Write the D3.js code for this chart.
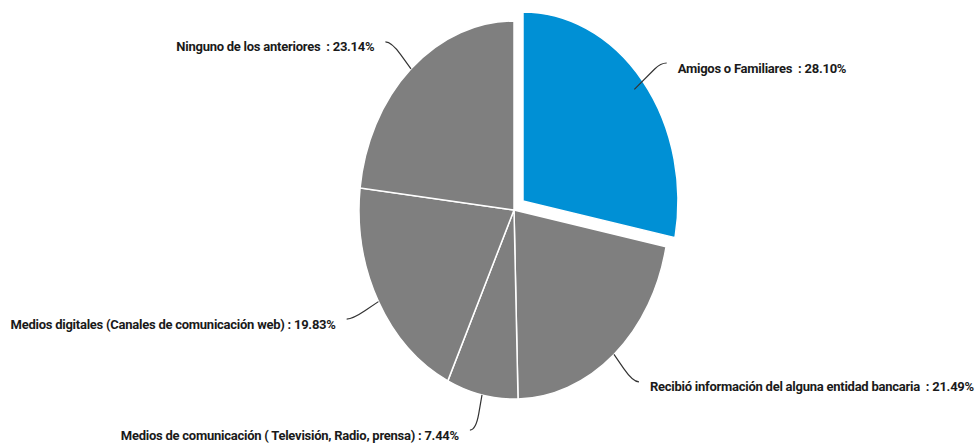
<!DOCTYPE html>
<html>
<head>
<meta charset="utf-8">
<script src="https://cdn.jsdelivr.net/npm/d3@7"></script>
<style>
  html, body { margin: 0; padding: 0; background: #fff; }
  svg { display: block; }
  .lbl { font-family: "Roboto", "Liberation Sans", sans-serif; font-weight: bold; font-size: 13px;
         letter-spacing: -0.25px; fill: #1a1a1a; white-space: pre; }
</style>
</head>
<body>
<svg id="chart" width="977" height="445"></svg>
<script>
// Source of information, share of respondents (%)
const categories = [
  "Amigos o Familiares ",
  "Recibió información del alguna entidad bancaria ",
  "Medios de comunicación ( Televisión, Radio, prensa)",
  "Medios digitales (Canales de comunicación web)",
  "Ninguno de los anteriores "
];
const values = [28.10, 21.49, 7.44, 19.83, 23.14];
const highlighted = [true, false, false, false, false];

const cx = 514, cy = 210;     // pie centre
const rx = 155, ry = 189;     // horizontal / vertical radius (oval pie)
const explode = 0.075;        // offset of the highlighted slice, in radius units

const svg = d3.select("#chart");

const pie = d3.pie().sort(null).value(d => d.value);
const data = categories.map((c, i) => ({ name: c, value: values[i], hi: highlighted[i] }));
const arcs = pie(data);

const arc = d3.arc().innerRadius(0).outerRadius(1);

// point at angle a (clockwise from 12 o'clock) and relative radius r on the oval
function pt(a, r, off) {
  return [cx + off[0] + rx * r * Math.sin(a), cy + off[1] - ry * r * Math.cos(a)];
}
function offsetOf(d) {
  if (!d.data.hi) return [0, 0];
  const m = (d.startAngle + d.endAngle) / 2;
  return [rx * explode * Math.sin(m), -ry * explode * Math.cos(m)];
}

const slices = svg.append("g");
slices.selectAll("path")
  .data(arcs)
  .join("path")
  .attr("transform", d => {
    const o = offsetOf(d);
    return `translate(${cx + o[0]},${cy + o[1]}) scale(${rx},${ry})`;
  })
  .attr("d", arc)
  .attr("fill", d => d.data.hi ? "#0090d5" : "#7f7f7f")
  .attr("stroke", "#ffffff")
  .attr("stroke-width", 1.5)
  .attr("vector-effect", "non-scaling-stroke");

// leader lines and labels
const labels = svg.append("g");
arcs.forEach(d => {
  const m = (d.startAngle + d.endAngle) / 2;
  const off = offsetOf(d);
  const right = Math.sin(m) >= 0;
  const p0 = pt(m, d.data.hi ? 0.93 : 1.0, off);
  const p1 = pt(m, 1.1, off);
  const elbow = pt(m, d.data.hi ? 1.15 : 1.19, off);
  const end = [elbow[0] + (right ? 6 : -6), elbow[1]];
  const path = d3.path();
  path.moveTo(p0[0], p0[1]);
  path.lineTo(p1[0], p1[1]);
  path.quadraticCurveTo(elbow[0], elbow[1], end[0], end[1]);
  labels.append("path")
    .attr("d", path.toString())
    .attr("fill", "none")
    .attr("stroke", "#333")
    .attr("stroke-width", 1.2);
  labels.append("text")
    .attr("class", "lbl")
    .attr("x", end[0] + (right ? 11 : -11))
    .attr("y", end[1] + 5)
    .attr("dy", "0.35em")
    .attr("text-anchor", right ? "start" : "end")
    .text(`${d.data.name} : ${d.data.value.toFixed(2)}%`);
});
</script>
</body>
</html>
